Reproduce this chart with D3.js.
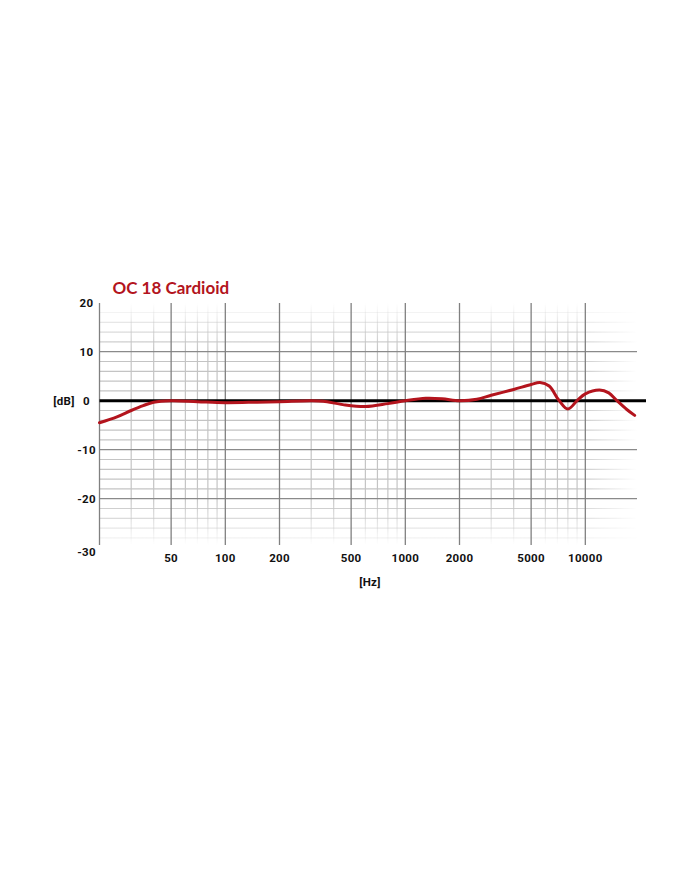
<!DOCTYPE html>
<html>
<head>
<meta charset="utf-8">
<script src="https://cdn.jsdelivr.net/npm/d3@7"></script>
<style>
  html, body { margin: 0; padding: 0; background: #fff; }
  svg { display: block; }
  .tick-label { font-family: Roboto, "Liberation Sans", sans-serif; font-weight: 700; font-size: 11.5px; letter-spacing: 0.3px; fill: #111; }
</style>
</head>
<body>
<div class="graph"></div>
<script>
// datos de la curva (Hz, dB)
const freqs = [20, 25, 30, 35, 40, 50, 70, 100, 150, 200, 300, 350, 450, 600, 800, 1000, 1300, 1600, 2000, 2500, 3000, 4000, 5000, 5600, 6300, 7100, 8000, 9000, 10000, 12000, 13500, 15000, 17000, 18800]
const levels = [-4.5, -3.3, -2.0, -1.0, -0.3, 0, -0.2, -0.4, -0.3, -0.2, 0, -0.1, -0.8, -1.2, -0.6, 0, 0.5, 0.4, 0, 0.3, 1.1, 2.3, 3.3, 3.7, 3.0, 0.2, -1.7, 0, 1.4, 2.2, 1.6, 0, -1.8, -3]

// ejes
const xTicks = [50, 100, 200, 500, 1000, 2000, 5000, 10000]
const xMinor = [30, 40, 60, 70, 80, 90, 300, 400, 600, 700, 800, 900, 3000, 4000, 6000, 7000, 8000, 9000]
const yTicks = [20, 10, 0, -10, -20, -30]
const yMajorLines = [10, -10, -20]
const yMinor = [18, 16, 14, 12, 8, 6, 4, 2, -2, -4, -6, -8, -12, -14, -16, -18, -22, -24, -26, -28]

const title = "OC 18 Cardioid"
const red = '#b3141d'

let width = 700, height = 869

const svg = d3.select('.graph')
  .append('svg')
  .attr('width', width)
  .attr('height', height)

// escalas
const xScale = d3.scaleLog().domain([20, 20000]).range([99.5, 639.5])
const yScale = d3.scaleLinear().domain([20, -30]).range([302.7, 547.7])

const gridRight = 637
const gridTop = 303, gridBottom = 545

// degradados para las líneas menores
const defs = svg.append('defs')
const gradV = defs.append('linearGradient').attr('id', 'fadeV')
  .attr('gradientUnits', 'userSpaceOnUse')
  .attr('x1', 0).attr('x2', 0).attr('y1', gridTop).attr('y2', gridBottom)
gradV.append('stop').attr('offset', 0).attr('stop-color', '#c4c4c4').attr('stop-opacity', 0)
gradV.append('stop').attr('offset', 0.2).attr('stop-color', '#c4c4c4').attr('stop-opacity', 1)
gradV.append('stop').attr('offset', 0.8).attr('stop-color', '#c4c4c4').attr('stop-opacity', 1)
gradV.append('stop').attr('offset', 1).attr('stop-color', '#c4c4c4').attr('stop-opacity', 0)

const gradH = defs.append('linearGradient').attr('id', 'fadeH')
  .attr('gradientUnits', 'userSpaceOnUse')
  .attr('x1', 99.5).attr('x2', gridRight).attr('y1', 0).attr('y2', 0)
gradH.append('stop').attr('offset', 0).attr('stop-color', '#c4c4c4').attr('stop-opacity', 1)
gradH.append('stop').attr('offset', 0.88).attr('stop-color', '#c4c4c4').attr('stop-opacity', 1)
gradH.append('stop').attr('offset', 1).attr('stop-color', '#c4c4c4').attr('stop-opacity', 0)

const grid = svg.append('g')

// líneas horizontales menores
grid.selectAll('.hminor')
  .data(yMinor)
  .enter()
  .append('line')
  .attr('class', 'hminor')
  .attr('x1', xScale(20)).attr('x2', gridRight)
  .attr('y1', d => yScale(d)).attr('y2', d => yScale(d))
  .attr('stroke', 'url(#fadeH)')
  .attr('stroke-width', 1.2)
  .attr('opacity', d => d > 10 ? 1 - (d - 10) / 10 : d < -20 ? 1 - (-20 - d) / 10 : 1)

// líneas verticales menores
grid.selectAll('.vminor')
  .data(xMinor)
  .enter()
  .append('line')
  .attr('class', 'vminor')
  .attr('x1', d => xScale(d)).attr('x2', d => xScale(d))
  .attr('y1', gridTop).attr('y2', gridBottom)
  .attr('stroke', 'url(#fadeV)')
  .attr('stroke-width', 1.2)

// líneas horizontales principales
grid.selectAll('.hmajor')
  .data(yMajorLines)
  .enter()
  .append('line')
  .attr('class', 'hmajor')
  .attr('x1', xScale(20)).attr('x2', gridRight)
  .attr('y1', d => yScale(d)).attr('y2', d => yScale(d))
  .attr('stroke', '#8a8a8a')
  .attr('stroke-width', 1.3)

// líneas verticales principales (incluye el eje izquierdo)
grid.selectAll('.vmajor')
  .data([20].concat(xTicks))
  .enter()
  .append('line')
  .attr('class', 'vmajor')
  .attr('x1', d => xScale(d)).attr('x2', d => xScale(d))
  .attr('y1', gridTop).attr('y2', gridBottom)
  .attr('stroke', '#808080')
  .attr('stroke-width', 1.3)

// línea de 0 dB
svg.append('line')
  .attr('x1', xScale(20)).attr('x2', 646)
  .attr('y1', yScale(0)).attr('y2', yScale(0))
  .attr('stroke', '#000')
  .attr('stroke-width', 3)

// curva de respuesta
const line = d3.line()
  .x((d, i) => xScale(d))
  .y((d, i) => yScale(levels[i]))
  .curve(d3.curveCatmullRom.alpha(0.5))

svg.append('path')
  .datum(freqs)
  .attr('d', line)
  .attr('fill', 'none')
  .attr('stroke', red)
  .attr('stroke-width', 3)
  .attr('stroke-linecap', 'round')
  .attr('stroke-linejoin', 'round')

// etiquetas del eje Y
svg.selectAll('.ylab')
  .data(yTicks)
  .enter()
  .append('text')
  .attr('class', 'tick-label')
  .attr('x', 86.5)
  .attr('y', d => yScale(d) + (d === -30 ? 4 : 0))
  .attr('text-anchor', 'middle')
  .attr('dominant-baseline', 'central')
  .text(d => d)

svg.append('text')
  .attr('class', 'tick-label')
  .attr('x', 64)
  .attr('y', yScale(0))
  .attr('text-anchor', 'middle')
  .attr('dominant-baseline', 'central')
  .text('[dB]')

// etiquetas del eje X
svg.selectAll('.xlab')
  .data(xTicks)
  .enter()
  .append('text')
  .attr('class', 'tick-label')
  .attr('x', d => xScale(d))
  .attr('y', 557.5)
  .attr('text-anchor', 'middle')
  .attr('dominant-baseline', 'central')
  .text(d => d)

svg.append('text')
  .attr('class', 'tick-label')
  .attr('x', 370)
  .attr('y', 582)
  .attr('text-anchor', 'middle')
  .attr('dominant-baseline', 'central')
  .text('[Hz]')

// título
svg.append('text')
  .attr('x', 112.5)
  .attr('y', 294)
  .style('font-family', 'Lato, "Open Sans", sans-serif')
  .style('font-weight', 700)
  .style('font-size', '17px')
  .attr('fill', red)
  .text(title)
</script>
</body>
</html>
